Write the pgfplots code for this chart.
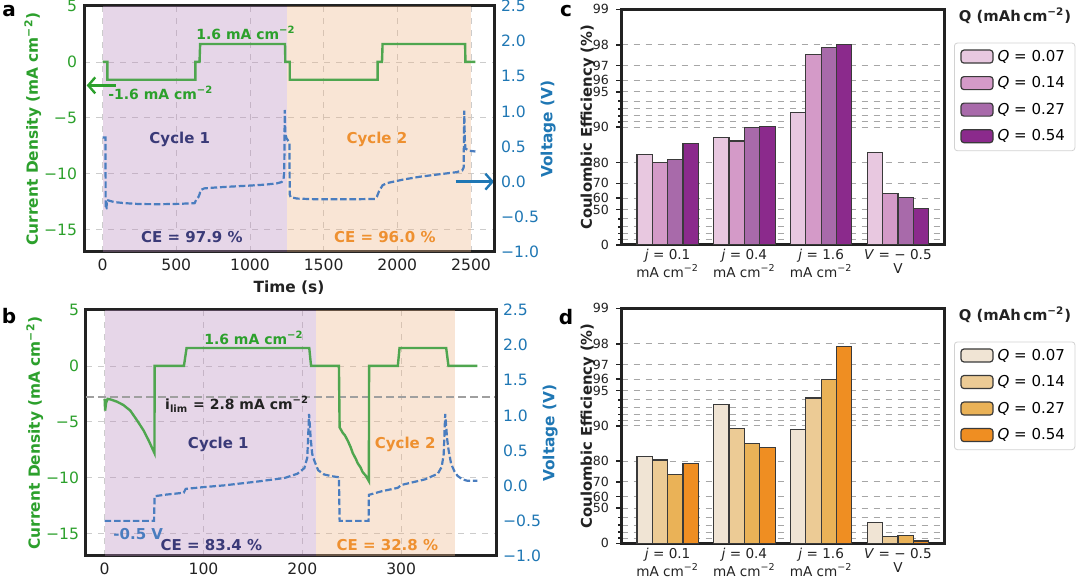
\documentclass[border=0pt]{standalone}
\usepackage{fontspec}
\setmainfont{DejaVu Sans}
\usepackage{pgfplots}
\pgfplotsset{compat=1.18}
\usetikzlibrary{arrows.meta}

\definecolor{cgreen}{HTML}{2CA02C}
\definecolor{lgreen}{HTML}{4FA64F}
\definecolor{cblue}{HTML}{1F77B4}
\definecolor{lblue}{HTML}{4A7DBF}
\definecolor{navy}{HTML}{3A3A78}
\definecolor{corange}{HTML}{EE9030}
\definecolor{shpurple}{HTML}{B88ABD}
\definecolor{shpeach}{HTML}{EEB587}
\definecolor{frame}{HTML}{222222}
\definecolor{edge}{HTML}{3A3A3A}
\definecolor{pA}{HTML}{E8C8E0}
\definecolor{pB}{HTML}{D49AC8}
\definecolor{pC}{HTML}{A86AAA}
\definecolor{pD}{HTML}{8B2A8C}
\definecolor{oA}{HTML}{F0E4D4}
\definecolor{oB}{HTML}{ECCB95}
\definecolor{oC}{HTML}{EAB257}
\definecolor{oD}{HTML}{EF8E22}

\newcommand\tickfont{\fontsize{7.8}{9}\selectfont}
\newcommand\labfont{\fontsize{7.7}{9}\selectfont\bfseries}
\newcommand\annfont{\fontsize{7.5}{9}\selectfont\bfseries}
\newcommand\smallann{\fontsize{7}{8}\selectfont\bfseries}
\newcommand\ctickfont{\fontsize{6.3}{7.5}\selectfont}
\newcommand\cxfont{\fontsize{6.8}{7}\selectfont}
\newcommand\legfont{\fontsize{7.5}{9}\selectfont}
\newcommand\panfont{\fontsize{10}{12}\selectfont\bfseries}

\pgfplotsset{
  tsleft/.style={scale only axis, width=205pt, height=123pt, anchor=south west,
    ymin=-17, ymax=5, clip mode=individual,
    axis line style={line width=1.5pt, draw=frame}, major tick length=0pt,
    ticklabel style={font=\tickfont}, xticklabel style={text=frame},
    yticklabel style={text=cgreen},
    /pgf/number format/assume math mode=true,
    /pgf/number format/1000 sep={},
    ytick={-15,-10,-5,0,5}, yticklabels={−15,−10,−5,0,5},
    grid=major, grid style={dashed, gray!40, line width=0.4pt},
    xlabel={Time (s)}, xlabel style={font=\labfont, text=frame, yshift=2pt},
    ylabel={Current Density (mA cm\textsuperscript{−2})}, ylabel style={font=\labfont, text=cgreen, yshift=-5.5pt}},
  tsright/.style={scale only axis, width=205pt, height=123pt, anchor=south west,
    ymin=-1, ymax=2.5, clip mode=individual,
    axis y line*=right, axis x line=none,
    axis line style={line width=1.5pt, draw=frame}, major tick length=0pt,
    ticklabel style={font=\tickfont}, yticklabel style={text=cblue},
    ytick={-1,-0.5,0,0.5,1,1.5,2,2.5}, yticklabels={−1.0,−0.5,0.0,0.5,1.0,1.5,2.0,2.5},
    ylabel={Voltage (V)}, ylabel style={font=\labfont, text=cblue, yshift=6pt}},
  vline/.style={lblue, line width=1.1pt, dash pattern=on 3.3pt off 1.4pt},
  cebar/.style={scale only axis, width=161.2pt, anchor=south west,
    xmin=-0.6, xmax=3.6, ymin=0, ymax=99,
    y coord trafo/.code={\pgfmathparse{ln(100)-ln(100-##1)}},
    y coord inv trafo/.code={\pgfmathparse{100-100*exp(-##1)}},
    ytick={0,50,60,70,80,90,95,96,97,98,99},
    yticklabels={0,50,60,70,80,90,95,96,97,98,99},
    minor ytick={10,20,30,40,91,92,93,94},
    ymajorgrids, yminorgrids,
    major grid style={dashed, gray!70, line width=0.5pt},
    minor grid style={dashed, gray!70, line width=0.5pt},
    axis line style={line width=1.5pt, draw=frame},
    tick align=outside, ytick pos=left, xtick pos=bottom,
    major tick length=2.8pt, minor tick length=1.8pt,
    tick style={line width=0.8pt, draw=frame},
    xtick style={draw=none},
    yticklabel style={font=\ctickfont, text=frame},
    xtick={0,1,2,3},
    xticklabels={{\textit{j} = 0.1\\mA cm\textsuperscript{−2}},{\textit{j} = 0.4\\mA cm\textsuperscript{−2}},{\textit{j} = 1.6\\mA cm\textsuperscript{−2}},{\textit{V} = − 0.5\\V}},
    xticklabel style={font=\cxfont, align=center, text=frame, yshift=4pt},
    ylabel={Coulombic Efficiency (\%)}, ylabel style={font=\fontsize{7.4}{9}\selectfont\bfseries, text=frame, yshift=-8pt},
    ybar, bar width=0.2,
    legend style={at={(1.031,0.859)}, anchor=north west, draw=gray!35, rounded corners=1.5pt,
      font=\legfont, row sep=2.2pt, inner xsep=3pt, inner ysep=1.5pt},
    legend cell align=left,
    legend image code/.code={\draw[##1, draw=edge, line width=0.6pt] (0pt,-3pt) rectangle (16pt,3.5pt);}},
  barst/.style={draw=edge, line width=0.6pt, fill=#1}
}

\begin{document}
\begin{tikzpicture}
\useasboundingbox (0pt,0pt) rectangle (540pt,291pt);

% ---------------- panel a ----------------
\begin{axis}[tsleft, at={(42pt,165pt)}, xmin=-126, xmax=2656, xtick={0,500,1000,1500,2000,2500}]
\addplot[fill=shpurple, fill opacity=0.35, draw=none] coordinates {(0,-17) (0,5) (1249,5) (1249,-17)} -- cycle;
\addplot[fill=shpeach, fill opacity=0.35, draw=none] coordinates {(1249,-17) (1249,5) (2502,5) (2502,-17)} -- cycle;
\addplot[lgreen, line width=1.2pt] coordinates {
(0,0)(33,0)(33,-1.6)(630,-1.6)(630,0)(658,0)(662,1.6)(1238,1.6)(1240,0)(1270,0)(1270,-1.6)
(1866,-1.6)(1866,0)(1896,0)(1900,1.6)(2460,1.6)(2462,0)(2530,0)};
\node[text=cgreen, font=\smallann] at (axis cs:973,2.6) {1.6 mA cm\textsuperscript{−2}};
\node[text=cgreen, font=\smallann] at (axis cs:395,-2.75) {-1.6 mA cm\textsuperscript{−2}};
\node[text=navy, font=\annfont] at (axis cs:524,-6.9) {Cycle 1};
\node[text=corange, font=\annfont] at (axis cs:1862,-6.9) {Cycle 2};
\node[text=navy, font=\annfont] at (axis cs:606,-15.7) {CE = 97.9 \%};
\node[text=corange, font=\annfont] at (axis cs:1915,-15.7) {CE = 96.0 \%};
\draw[cgreen, line width=1.2pt, -{Straight Barb[length=3.5pt,width=8pt]}] (axis cs:91,-2.1) -- (axis cs:-108,-2.1);
\draw[cblue, line width=1.2pt, -{Straight Barb[length=3.5pt,width=8pt]}] (axis cs:2395,-10.71) -- (axis cs:2656,-10.71);
\end{axis}
\begin{axis}[tsright, at={(42pt,165pt)}, xmin=-126, xmax=2656]
\addplot[vline] coordinates {
(0,0.63)(20,0.63)(21,-0.39)(27,-0.38)(29,-0.26)(45,-0.27)(80,-0.29)(150,-0.305)(250,-0.318)(400,-0.32)
(520,-0.315)(625,-0.305)(630,-0.28)(640,-0.24)(650,-0.22)(658,-0.18)(665,-0.12)(690,-0.095)(750,-0.085)
(850,-0.072)(1000,-0.055)(1100,-0.042)(1180,-0.025)(1215,-0.005)(1228,0.04)(1233,0.15)(1236,1.02)
(1240,0.68)(1248,0.62)(1260,0.58)(1268,0.56)(1270,-0.18)(1276,-0.22)(1320,-0.24)(1450,-0.25)(1700,-0.25)
(1850,-0.245)(1862,-0.21)(1875,-0.14)(1900,-0.05)(1930,-0.02)(2038,0.03)(2150,0.07)(2263,0.10)
(2400,0.135)(2440,0.16)(2450,0.2)(2454,1.01)(2458,0.6)(2462,0.47)(2490,0.44)(2530,0.43)};
\end{axis}

% ---------------- panel b ----------------
\begin{axis}[tsleft, at={(43pt,13pt)}, xmin=-18.85, xmax=395.9, xtick={0,100,200,300}]
\addplot[fill=shpurple, fill opacity=0.35, draw=none] coordinates {(0,-17) (0,5) (214,5) (214,-17)} -- cycle;
\addplot[fill=shpeach, fill opacity=0.35, draw=none] coordinates {(214,-17) (214,5) (354.5,5) (354.5,-17)} -- cycle;
\addplot[gray!75, line width=1pt, dash pattern=on 4pt off 2pt] coordinates {(-18.85,-2.8) (395.9,-2.8)};
\addplot[lgreen, line width=1.2pt] coordinates {
(0,-2.95)(0.5,-4.0)(1.5,-3.3)(3,-2.95)(6,-3.0)(12.5,-3.2)(19,-3.5)(26,-4.0)(33,-4.9)(39.6,-5.8)
(44.7,-6.7)(50.4,-7.8)(50.6,0)(80.2,0)(82.9,1.6)(207,1.6)(208.8,0)(237,0)(237.7,-5.5)(239,-5.7)
(241,-6.0)(243,-6.2)(246,-6.7)(249,-7.3)(251,-7.8)(254,-8.3)(256,-8.7)(259,-9.1)(261,-9.5)(264,-9.8)
(266,-10.1)(267.3,-10.3)(267.5,0)(296.6,0)(298.3,1.6)(345.5,1.6)(347.8,0)(377,0)};
\node[text=cgreen, font=\smallann] at (axis cs:151,2.5) {1.6 mA cm\textsuperscript{−2}};
\node[text=frame, font=\smallann] at (axis cs:134,-3.45) {i\textsubscript{lim} = 2.8 mA cm\textsuperscript{−2}};
\node[text=navy, font=\annfont] at (axis cs:115,-7.0) {Cycle 1};
\node[text=corange, font=\annfont] at (axis cs:304,-7.0) {Cycle 2};
\node[text=lblue, font=\annfont] at (axis cs:34,-15.0) {-0.5 V};
\node[text=navy, font=\annfont] at (axis cs:108,-16.05) {CE = 83.4 \%};
\node[text=corange, font=\annfont] at (axis cs:286,-16.05) {CE = 32.8 \%};
\end{axis}
\begin{axis}[tsright, at={(43pt,13pt)}, xmin=-18.85, xmax=395.9]
\addplot[vline] coordinates {
(0,-0.50)(50,-0.50)(50.5,-0.15)(60,-0.13)(80,-0.10)(82,-0.045)(100,-0.02)(121,0.005)(155,0.06)(182,0.11)
(195,0.17)(202,0.25)(205,0.40)(206.8,1.02)(208.5,0.66)(210,0.45)(212,0.36)(216,0.22)(222,0.16)(230,0.135)
(237,0.12)(237.7,-0.50)(267,-0.50)(267.3,-0.13)(280,-0.08)(296.6,-0.03)(300,0.01)(324,0.09)(337,0.17)
(341,0.27)(343,0.45)(344.5,1.02)(346.5,0.66)(348,0.5)(350.5,0.31)(354,0.2)(357,0.14)(362,0.09)(367,0.07)(377,0.07)};
\end{axis}

% ---------------- panel c ----------------
\begin{axis}[cebar, at={(310.8pt,168.5pt)}, height=117.8pt]
\addplot[barst=pA, bar shift=-0.3] coordinates {(0,83.0) (1,87.7) (2,92.5) (3,83.6)};
\addplot[barst=pB, bar shift=-0.1] coordinates {(0,80.2) (1,86.9) (2,97.6) (3,63.5)};
\addplot[barst=pC, bar shift=0.1] coordinates {(0,81.1) (1,90.0) (2,97.9) (3,60.7)};
\addplot[barst=pD, bar shift=0.3] coordinates {(0,86.2) (1,90.1) (2,98.0) (3,50.9)};
\legend{\textit{Q} = 0.07, \textit{Q} = 0.14, \textit{Q} = 0.27, \textit{Q} = 0.54}
\end{axis}
\node[font=\fontsize{7.4}{9}\selectfont\bfseries, text=frame] at (507.5pt,283pt) {Q (mAh\,cm\textsuperscript{−2})};

% ---------------- panel d ----------------
\begin{axis}[cebar, at={(310.8pt,19.3pt)}, height=117.5pt]
\addplot[barst=oA, bar shift=-0.3] coordinates {(0,81.9) (1,93.4) (2,89.2) (3,33.2)};
\addplot[barst=oB, bar shift=-0.1] coordinates {(0,80.5) (1,89.4) (2,94.2) (3,12.1)};
\addplot[barst=oC, bar shift=0.1] coordinates {(0,74.2) (1,85.9) (2,96.0) (3,14.5)};
\addplot[barst=oD, bar shift=0.3] coordinates {(0,79.2) (1,84.7) (2,97.9) (3,4.4)};
\legend{\textit{Q} = 0.07, \textit{Q} = 0.14, \textit{Q} = 0.27, \textit{Q} = 0.54}
\end{axis}
\node[font=\fontsize{7.4}{9}\selectfont\bfseries, text=frame] at (507.5pt,133.5pt) {Q (mAh\,cm\textsuperscript{−2})};

% panel letters
\node[font=\panfont, text=black] at (4.5pt,285.5pt) {a};
\node[font=\panfont, text=black] at (4.5pt,133pt) {b};
\node[font=\panfont, text=black] at (283pt,285.5pt) {c};
\node[font=\panfont, text=black] at (283pt,132.5pt) {d};
\end{tikzpicture}
\end{document}
